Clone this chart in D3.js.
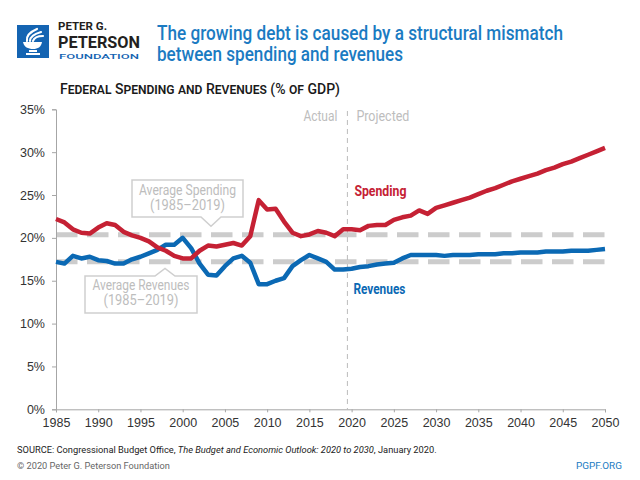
<!DOCTYPE html>
<html><head><meta charset="utf-8">
<script src="https://cdn.jsdelivr.net/npm/d3@7/dist/d3.min.js"></script>
<style>body{margin:0;background:#fff}svg{display:block}</style>
</head><body>
<svg id="chart" width="640" height="480"></svg>
<script>
// ---------- DATA ----------
const years = d3.range(1985, 2051);
const spending = [
  22.2, 21.8, 21.0, 20.6, 20.5, 21.2, 21.7, 21.5, 20.7, 20.3,
  20.0, 19.6, 18.9, 18.5, 17.9, 17.6, 17.6, 18.5, 19.1, 19.0,
  19.2, 19.4, 19.1, 20.2, 24.4, 23.3, 23.4, 21.9, 20.6, 20.2,
  20.4, 20.8, 20.6, 20.2, 21.0,
  21.0, 20.9, 21.4, 21.5, 21.5, 22.1, 22.4, 22.6, 23.2, 22.8,
  23.5, 23.8, 24.1, 24.4, 24.7, 25.1, 25.5, 25.8, 26.2, 26.6,
  26.9, 27.2, 27.5, 27.9, 28.2, 28.6, 28.9, 29.3, 29.7, 30.1, 30.5
];
const revenues = [
  17.2, 17.0, 17.9, 17.6, 17.8, 17.4, 17.3, 17.0, 17.0, 17.5,
  17.8, 18.2, 18.6, 19.2, 19.2, 20.0, 18.8, 17.0, 15.7, 15.6,
  16.7, 17.6, 17.9, 17.1, 14.6, 14.6, 15.0, 15.3, 16.7, 17.4,
  18.0, 17.6, 17.2, 16.3, 16.3,
  16.4, 16.6, 16.7, 16.9, 17.0, 17.1, 17.6, 18.0, 18.0, 18.0,
  18.0, 17.9, 18.0, 18.0, 18.0, 18.1, 18.1, 18.1, 18.2, 18.2,
  18.3, 18.3, 18.3, 18.4, 18.4, 18.4, 18.5, 18.5, 18.5, 18.6, 18.7
];
const xTicks = [1985,1990,1995,2000,2005,2010,2015,2020,2025,2030,2035,2040,2045,2050];
const yTicks = [0,5,10,15,20,25,30,35];
const avgStart = 1985, avgEnd = 2019, projectionSplit = 2019.5;

// ---------- SETUP ----------
const RED = "#c52134", BLUE = "#0b69b4", GRAY = "#cccccc", LABEL = "#bdbdbd";
const svg = d3.select("#chart");
const x = d3.scaleLinear().domain([1985, 2050]).range([56, 605]);
const y = d3.scaleLinear().domain([0, 35]).range([409.3, 109.3]);

function fitText(sel, w){ sel.attr("textLength", w).attr("lengthAdjust", "spacingAndGlyphs"); return sel; }
function fitSize(sel, w){
  const fs = +sel.attr("font-size");
  const cur = sel.node().getComputedTextLength();
  if (cur > 0) sel.attr("font-size", (fs * w / cur).toFixed(2));
  return sel;
}

// ---------- HEADER ----------
const logo = svg.append("g");
logo.append("rect").attr("x",17).attr("y",25).attr("width",32).attr("height",33).attr("fill","#1464b2");
const fl = logo.append("g").attr("fill","none").attr("stroke","#fff").attr("stroke-linecap","round");
fl.append("path").attr("d","M27,41 C26,36 30,32 37,29").attr("stroke-width",2.2);
fl.append("path").attr("d","M30,41 C30,37 34,34 41,32").attr("stroke-width",2.2);
fl.append("path").attr("d","M33,41 C34,38 38,36 43,36").attr("stroke-width",2.2);
logo.append("path").attr("d","M23,42 H42 C41,47 38,49 33,49 C28,49 24,47 23,42 Z").attr("fill","#fff");
logo.append("rect").attr("x",29).attr("y",50).attr("width",8).attr("height",2).attr("fill","#fff");
logo.append("rect").attr("x",26).attr("y",53).attr("width",14).attr("height",2).attr("fill","#fff");

fitText(svg.append("text").attr("x",58).attr("y",30).attr("font-family","Roboto, 'Liberation Sans', sans-serif")
  .attr("font-weight",700).attr("font-size",11).attr("fill","#231f20").text("PETER G."), 49);
fitText(svg.append("text").attr("x",58).attr("y",47.7).attr("font-family","Roboto, 'Liberation Sans', sans-serif")
  .attr("font-weight",700).attr("font-size",16).attr("fill","#231f20").text("PETERSON"), 82);
fitText(svg.append("text").attr("x",59).attr("y",58.5).attr("font-family","Roboto, 'Liberation Sans', sans-serif")
  .attr("font-weight",500).attr("font-size",7).attr("fill","#1464b2").text("FOUNDATION"), 80);

const TITLE_FONT = "Roboto, 'DejaVu Sans Condensed', sans-serif";
fitText(svg.append("text").attr("x",157).attr("y",40).attr("font-family",TITLE_FONT).attr("font-weight",500)
  .attr("font-size",19.5).attr("fill","#1b7bc2").text("The growing debt is caused by a structural mismatch"), 406);
fitText(svg.append("text").attr("x",157).attr("y",61).attr("font-family",TITLE_FONT).attr("font-weight",500)
  .attr("font-size",19.5).attr("fill","#1b7bc2").text("between spending and revenues"), 246);

fitText(svg.append("text").attr("x",60).attr("y",94).attr("font-family",TITLE_FONT).attr("font-weight",500)
  .attr("font-size",15).attr("fill","#1a1a1a").style("font-variant","small-caps")
  .text("Federal Spending and Revenues (% of GDP)"), 280);

// ---------- AVERAGE LINES ----------
const idxAvg = years.map((yr,i)=>[yr,i]).filter(d=>d[0]>=avgStart && d[0]<=avgEnd).map(d=>d[1]);
const avgSpending = d3.mean(idxAvg, i=>spending[i]);
const avgRevenues = d3.mean(idxAvg, i=>revenues[i]);
[avgSpending, avgRevenues].forEach(v=>{
  svg.append("line").attr("x1",x(1985)).attr("x2",x(2050)).attr("y1",y(v)).attr("y2",y(v))
    .attr("stroke",GRAY).attr("stroke-width",5).attr("stroke-dasharray","21.5,9.5");
});

// ---------- PROJECTION DIVIDER ----------
svg.append("line").attr("x1",x(projectionSplit)).attr("x2",x(projectionSplit)).attr("y1",111).attr("y2",y(0))
  .attr("stroke","#bbb").attr("stroke-width",1).attr("stroke-dasharray","5,4");
const SMALL_FONT = "Roboto, 'DejaVu Sans Condensed', sans-serif";
fitText(svg.append("text").attr("x",x(projectionSplit)-10).attr("y",121).attr("text-anchor","end")
  .attr("font-family",SMALL_FONT).attr("font-size",14).attr("fill",LABEL).text("Actual"), 34);
fitText(svg.append("text").attr("x",x(projectionSplit)+9).attr("y",121)
  .attr("font-family",SMALL_FONT).attr("font-size",14).attr("fill",LABEL).text("Projected"), 53);

// ---------- AXES ----------
const AXIS_FONT = "'Liberation Sans', Arial, sans-serif";
const yAxis = svg.append("g").attr("transform",`translate(${x(1985)},0)`)
  .call(d3.axisLeft(y).tickValues(yTicks).tickFormat(d=>d+"%").tickSize(4).tickPadding(7));
const xAxis = svg.append("g").attr("transform",`translate(0,${y(0)})`)
  .call(d3.axisBottom(x).tickValues(xTicks).tickFormat(d3.format("d")).tickSize(3).tickPadding(6));
[yAxis, xAxis].forEach(a=>{
  a.select(".domain").attr("stroke","#a6a6a6");
  a.selectAll(".tick line").attr("stroke","#a6a6a6");
  a.selectAll(".tick text").attr("font-family",AXIS_FONT).attr("font-size",12.5).attr("fill","#333");
});

// ---------- ANNOTATION BOXES ----------
const boxStyle = g => g.attr("fill","#fff").attr("stroke","#cfcfcf").attr("stroke-width",1.5);
const sTip = y(avgSpending) - 8.5;
svg.append("path").call(boxStyle)
  .attr("d",`M132,180 H243 V217 H221 L211,${sTip} L201,217 H132 Z`);
const rTip = y(avgRevenues) + 6.5;
svg.append("path").call(boxStyle)
  .attr("d",`M85,276 H155 L165,${rTip} L175,276 H197 V313 H85 Z`);
const annFont = SMALL_FONT;
fitText(svg.append("text").attr("x",187.5).attr("y",195).attr("text-anchor","middle").attr("font-family",annFont)
  .attr("font-size",14).attr("fill",LABEL).text("Average Spending"), 97);
fitText(svg.append("text").attr("x",187.5).attr("y",210).attr("text-anchor","middle").attr("font-family",annFont)
  .attr("font-size",14).attr("fill",LABEL).text("(1985–2019)"), 75);
fitText(svg.append("text").attr("x",141).attr("y",290).attr("text-anchor","middle").attr("font-family",annFont)
  .attr("font-size",14).attr("fill",LABEL).text("Average Revenues"), 97);
fitText(svg.append("text").attr("x",141).attr("y",305).attr("text-anchor","middle").attr("font-family",annFont)
  .attr("font-size",14).attr("fill",LABEL).text("(1985–2019)"), 75);

// ---------- DATA LINES ----------
const line = d3.line().x((d,i)=>x(years[i])).y(d=>y(d));
svg.append("path").datum(revenues).attr("d",line).attr("fill","none").attr("stroke",BLUE)
  .attr("stroke-width",4.5).attr("stroke-linejoin","round").attr("stroke-linecap","butt");
svg.append("path").datum(spending).attr("d",line).attr("fill","none").attr("stroke",RED)
  .attr("stroke-width",4.5).attr("stroke-linejoin","round").attr("stroke-linecap","butt");

fitText(svg.append("text").attr("x",x(projectionSplit)+7).attr("y",196).attr("font-family",SMALL_FONT)
  .attr("font-weight",700).attr("font-size",14).attr("fill",RED).text("Spending"), 52);
fitText(svg.append("text").attr("x",x(projectionSplit)+6).attr("y",294).attr("font-family",SMALL_FONT)
  .attr("font-weight",700).attr("font-size",14).attr("fill",BLUE).text("Revenues"), 52);

// ---------- FOOTER ----------
const src = svg.append("text").attr("x",17).attr("y",453).attr("font-family",SMALL_FONT)
  .attr("font-size",10).attr("fill","#222");
src.append("tspan").text("SOURCE: Congressional Budget Office, ");
src.append("tspan").attr("font-style","italic").text("The Budget and Economic Outlook: 2020 to 2030");
src.append("tspan").text(", January 2020.");
fitSize(src, 420);
fitSize(svg.append("text").attr("x",17).attr("y",469).attr("font-family",SMALL_FONT)
  .attr("font-size",10).attr("fill","#666").text("© 2020 Peter G. Peterson Foundation"), 153);
fitSize(svg.append("text").attr("x",622).attr("y",469).attr("text-anchor","end").attr("font-family",SMALL_FONT)
  .attr("font-size",10).attr("fill","#1b7bc2").text("PGPF.ORG"), 46);
</script>
</body></html>
